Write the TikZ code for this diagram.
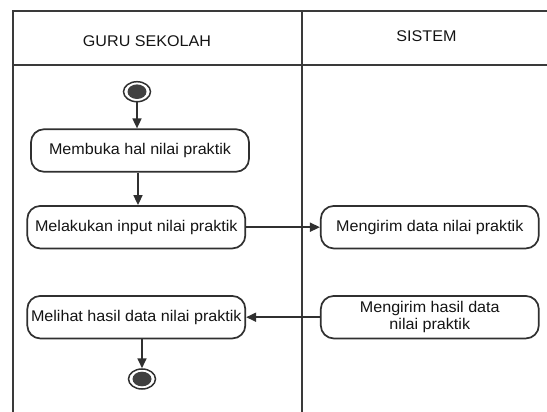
\documentclass[tikz,border=0pt]{standalone}
\usepackage{fontspec}
\setmainfont{Liberation Sans}[FakeStretch=1.04]
\usetikzlibrary{arrows.meta,shapes.geometric}
\definecolor{lanec}{HTML}{3A3A3A}
\definecolor{boxc}{HTML}{303030}
\definecolor{dotc}{HTML}{404040}
\begin{document}
\begin{tikzpicture}[x=1pt,y=-1pt,
  lane/.style={draw=lanec,line width=2pt},
  act/.style={draw=boxc,line width=1.7pt,rounded corners=13pt,minimum width=218pt,minimum height=42.5pt,inner sep=0pt,align=center,font=\fontsize{15.5}{16.5}\selectfont,text=black!92},
  lbl/.style={font=\fontsize{15.5}{18}\selectfont,text=black!92},
  flow/.style={draw=boxc,line width=1.7pt,-{Triangle[length=10pt,width=9pt]}},
  ring/.style={ellipse,draw=boxc,line width=1.5pt,minimum width=27pt,minimum height=20pt,inner sep=0pt},
  dot/.style={ellipse,fill=dotc,minimum width=19pt,minimum height=14.6pt,inner sep=0pt},
]
\useasboundingbox (0,0) rectangle (547,412);
\draw[lane] (12.7,412) -- (12.7,11) -- (547,11);
\draw[lane] (12.7,65) -- (547,65);
\draw[lane] (301.5,11) -- (301.5,412);
\node[lbl] (h1) at (147,41.5) {GURU SEKOLAH};
\node[lbl] (h2) at (426.5,36.4) {SISTEM};
\node[ring] (s) at (137,91.7) {};
\node[dot] (si) at (s) {};
\node[act] (a1) at (140,150.5) {Membuka hal nilai praktik};
\node[act] (a2) at (136.3,227.2) {Melakukan input nilai praktik};
\node[act] (a3) at (429.8,227.2) {Mengirim data nilai praktik};
\node[act] (a4) at (136.3,317.2) {Melihat hasil data nilai praktik};
\node[act] (a5) at (429.8,317.2) {Mengirim hasil data\\nilai praktik};
\node[ring] (e) at (142,379) {};
\node[dot] (ei) at (e) {};
\coordinate (c1) at (138,0);
\draw[flow] (s) -- (s |- a1.north);
\draw[flow] (a1.south -| c1) -- (a2.north -| c1);
\draw[flow] (a2.east) -- (a3.west);
\draw[flow] (a5.west) -- (a4.east);
\draw[flow] (a4.south -| e) -- (e);
\end{tikzpicture}
\end{document}
